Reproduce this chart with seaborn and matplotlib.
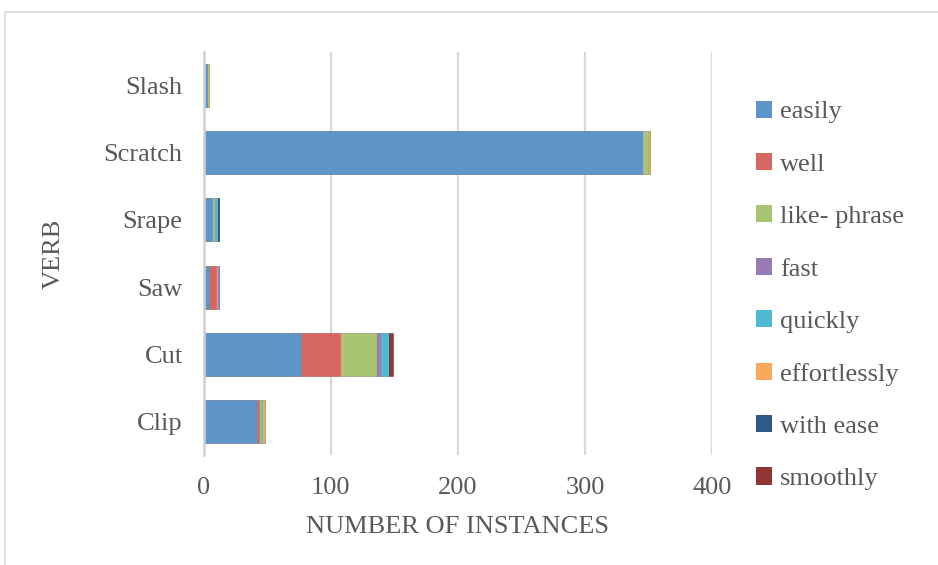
import matplotlib
matplotlib.use("Agg")
import matplotlib.pyplot as plt
from matplotlib.patches import Rectangle, Patch
import numpy as np
import seaborn as sns

# Verbs, listed top to bottom
verbs = ["Slash", "Scratch", "Srape", "Saw", "Cut", "Clip"]

# Modifier series in stacking order
modifiers = ["easily", "well", "like- phrase", "fast", "quickly",
             "effortlessly", "with ease", "smoothly"]

easily       = [3, 345, 7, 4, 76, 41]
well         = [0, 0, 0, 6, 31, 3]
like_phrase  = [1, 5, 1, 1, 29, 1]
fast         = [0, 0, 0, 1, 3, 0]
quickly      = [0, 0, 3, 0, 6, 1]
effortlessly = [0, 1, 0, 0, 0, 2]
with_ease    = [0, 0, 1, 0, 1, 0]
smoothly     = [0, 0, 0, 0, 3, 0]

series = [easily, well, like_phrase, fast, quickly,
          effortlessly, with_ease, smoothly]

colors = ["#5f96c9", "#d46861", "#a9c472", "#977cb6",
          "#4fb9d2", "#f9a85c", "#2d5a88", "#8e3535"]

sns.set_theme(style="white")
plt.rcParams["font.family"] = ["Liberation Serif", "DejaVu Serif"]

text_color = "#595959"
fs = 19

fig = plt.figure(figsize=(9.38, 5.65), dpi=100)
ax = fig.add_axes([203.5 / 938, 1 - 455 / 565, (712 - 203.5) / 938, (455 - 52) / 565])

# Stack by drawing cumulative totals, longest first
cum = np.cumsum(np.array(series, dtype=float), axis=0)
for k in range(len(series) - 1, -1, -1):
    sns.barplot(x=cum[k], y=verbs, order=verbs, color=colors[k],
                width=0.64, saturation=1, ax=ax, zorder=3,
                linewidth=0.4, edgecolor=colors[k])

ax.set_xlim(0, 400)
ax.set_xticks([0, 100, 200, 300, 400])
ax.xaxis.grid(True, color="#d9d9d9", linewidth=1.6, zorder=0)
ax.set_axisbelow(True)
for side in ["top", "right", "bottom"]:
    ax.spines[side].set_visible(False)
ax.spines["left"].set_color("#d0d0d0")
ax.spines["left"].set_linewidth(1.8)
ax.spines["left"].set_zorder(4)

ax.tick_params(axis="both", length=0, labelsize=fs, colors=text_color)
ax.tick_params(axis="y", pad=15)
ax.tick_params(axis="x", pad=16)

ax.set_xlabel("NUMBER OF INSTANCES", fontsize=fs, color=text_color, labelpad=12)
ax.set_ylabel("VERB", fontsize=fs, color=text_color, labelpad=28)

handles = [Patch(facecolor=c, edgecolor="none") for c in colors]
leg = fig.legend(handles, modifiers, loc="upper left",
                 bbox_to_anchor=(745 / 938, 1 - 90 / 565),
                 frameon=False, fontsize=fs, labelcolor=text_color,
                 handlelength=0.62, handleheight=0.62, handletextpad=0.3,
                 labelspacing=1.12, borderaxespad=0)

# Outer chart frame
fig.patches.append(Rectangle((5 / 938, -0.05), 1.2, 1 - 12 / 565 + 0.05,
                             transform=fig.transFigure, fill=False,
                             edgecolor="#d9d9d9", linewidth=1.2))

fig.savefig("out.png", dpi=100)
